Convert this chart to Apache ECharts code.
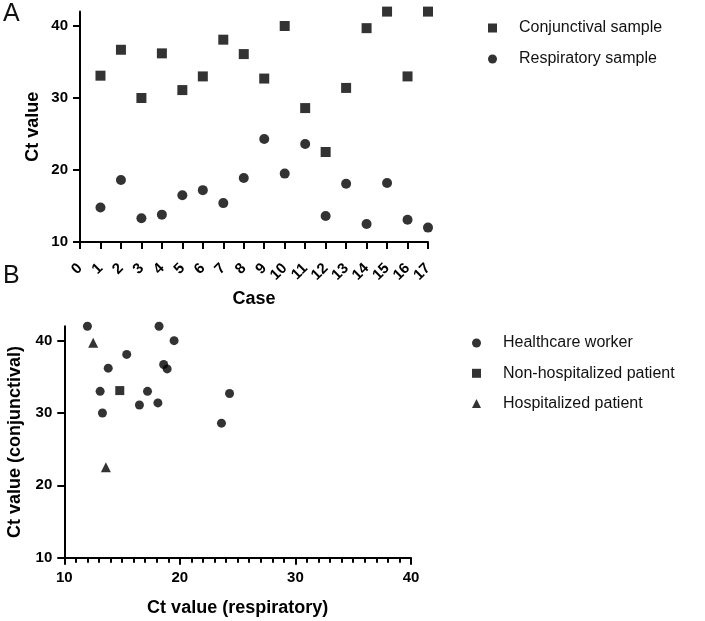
<!DOCTYPE html>
<html><head><meta charset="utf-8">
<script src="https://cdn.jsdelivr.net/npm/echarts@6/dist/echarts.min.js"></script>
<style>html,body{margin:0;padding:0;background:#fff}#c{width:705px;height:621px}</style>
</head><body><div id="c"></div>
<script>
// ---- data ----
const cases = [1,2,3,4,5,6,7,8,9,10,11,12,13,14,15,16,17];
const caseTickLabels = ['0','1','2','3','4','5','6','7','8','9','10','11','12','13','14','15','16','17'];
const conjunctival = [33.1,36.7,30.0,36.2,31.1,33.0,38.1,36.1,32.7,40.0,28.6,22.5,31.4,39.7,42.0,33.0,42.0];
const respiratory  = [14.8,18.6,13.3,13.8,16.5,17.2,15.4,18.9,24.3,19.5,23.6,13.6,18.1,12.5,18.2,13.1,12.0];
const patientGroup = ['N','W','W','W','W','W','W','W','W','W','W','H','W','H','W','W','W'];
const groupKeys = ['W','N','H'];
const groupNames = ['Healthcare worker','Non-hospitalized patient','Hospitalized patient'];
const groupSymbols = ['circle','rect','triangle'];
const ctTicks = [10,20,30,40];

const FONT = '"Liberation Sans", Arial, Helvetica, sans-serif';
const chart = echarts.init(document.getElementById('c'), null, {renderer:'canvas'});

const axisLineStyle = {show:true, lineStyle:{color:'#000', width:2}};
const tickStyle = () => ({show:true, length:7, lineStyle:{color:'#000', width:2}});
const labelStyle = () => ({color:'#000', fontFamily:FONT, fontWeight:'bold', fontSize:15});
const nameStyle = {color:'#000', fontFamily:FONT, fontWeight:'bold', fontSize:18};

const seriesA = [
  {name:'Conjunctival sample', type:'scatter', xAxisIndex:0, yAxisIndex:0, symbol:'rect', symbolSize:10,
   itemStyle:{color:'#000'}, data: cases.map((c,i)=>[caseTickLabels.indexOf(String(c)), conjunctival[i]])},
  {name:'Respiratory sample', type:'scatter', xAxisIndex:0, yAxisIndex:0, symbol:'circle', symbolSize:10,
   itemStyle:{color:'#000'}, data: cases.map((c,i)=>[caseTickLabels.indexOf(String(c)), respiratory[i]])}
];
const seriesB = groupKeys.map((k,gi)=>({
  name: groupNames[gi], type:'scatter', xAxisIndex:1, yAxisIndex:1, symbol: groupSymbols[gi],
  symbolSize: gi===2 ? 10 : 9, itemStyle:{color:'#000'},
  data: cases.map((c,i)=>patientGroup[i]===k ? [respiratory[i], conjunctival[i]] : null).filter(d=>d)
}));

const legendText = {color:'#111', fontFamily:FONT, fontSize:16, lineHeight:16, padding:[0,0,0,17]};

chart.setOption({
  animation:false,
  backgroundColor:'#fff',
  title:[
    {text:'A', left:3, top:2, padding:0, textStyle:{fontFamily:FONT, fontWeight:'normal', fontSize:25, color:'#111'}},
    {text:'B', left:3, top:264, padding:0, textStyle:{fontFamily:FONT, fontWeight:'normal', fontSize:25, color:'#111'}},
    {text:'Case', left:254, top:290, textAlign:'center', padding:0, textStyle:nameStyle}
  ],
  legend:[
    {orient:'vertical', left:488, top:20, padding:0, itemGap:15, itemWidth:9, itemHeight:9,
     textStyle:legendText,
     data:[{name:'Conjunctival sample', icon:'rect'},{name:'Respiratory sample', icon:'circle'}]},
    {orient:'vertical', left:472, top:335, padding:0, itemGap:14.3, itemWidth:9, itemHeight:9,
     textStyle:legendText,
     data:groupNames.map((n,i)=>({name:n, icon:groupSymbols[i], itemStyle:{color:'#000'}}))}
  ],
  grid:[
    {left:80, top:11.6, width:348, height:230.4},
    {left:64.3, top:326.2, width:346.7, height:231.5}
  ],
  xAxis:[
    {type:'category', gridIndex:0, data:caseTickLabels, boundaryGap:false,
     axisLine:Object.assign({}, axisLineStyle, {onZero:false}),
     axisTick:Object.assign(tickStyle(), {interval:0}),
     axisLabel:Object.assign(labelStyle(), {interval:0, rotate:45, margin:24})},
    {type:'value', gridIndex:1, min:10, max:40, interval:10, splitLine:{show:false},
     axisLine:Object.assign({}, axisLineStyle, {onZero:false}), axisTick:tickStyle(),
     minorTick:{show:true, splitNumber:10, length:5, lineStyle:{color:'#000', width:2}},
     axisLabel:Object.assign(labelStyle(), {margin:13}),
     name:'Ct value (respiratory)', nameLocation:'middle', nameGap:41, nameTextStyle:nameStyle}
  ],
  yAxis:[
    {type:'value', gridIndex:0, min:10, max:42, splitLine:{show:false},
     axisLine:Object.assign({}, axisLineStyle, {onZero:false}), axisTick:Object.assign(tickStyle(), {customValues:ctTicks}),
     axisLabel:Object.assign(labelStyle(), {margin:12, customValues:ctTicks}),
     name:'Ct value', nameLocation:'middle', nameGap:38, nameTextStyle:nameStyle},
    {type:'value', gridIndex:1, min:10, max:42, splitLine:{show:false},
     axisLine:Object.assign({}, axisLineStyle, {onZero:false}), axisTick:Object.assign(tickStyle(), {customValues:ctTicks}),
     axisLabel:Object.assign(labelStyle(), {margin:12, customValues:ctTicks}),
     name:'Ct value (conjunctival)', nameLocation:'middle', nameGap:40, nameTextStyle:nameStyle}
  ],
  series: seriesA.concat(seriesB)
});
</script></body></html>
